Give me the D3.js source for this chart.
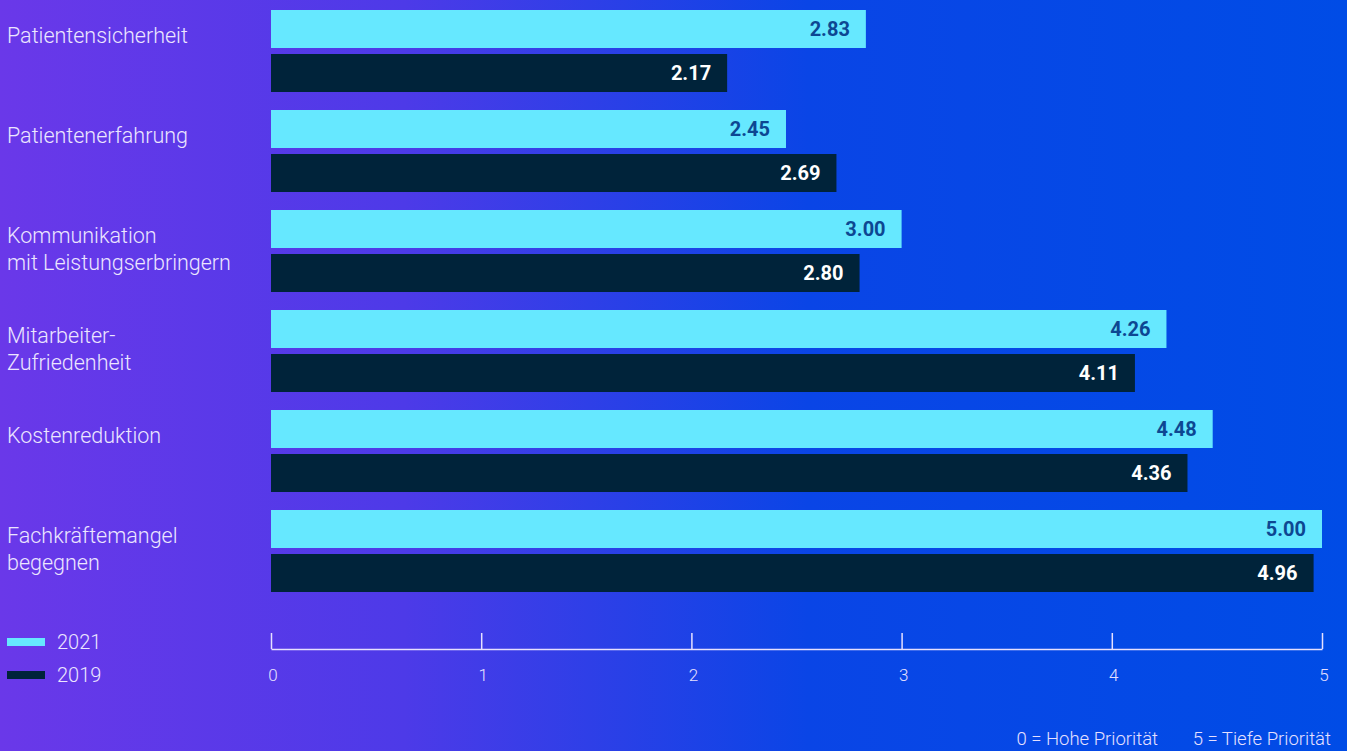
<!DOCTYPE html>
<html>
<head>
<meta charset="utf-8">
<script src="https://cdn.jsdelivr.net/npm/d3@7"></script>
<style>
    html, body { margin: 0; padding: 0; }
    body { width: 1347px; height: 751px; overflow: hidden; font-family: Roboto, "Noto Sans", sans-serif; }
</style>
</head>
<body>
<svg id="chart" width="1347" height="751"></svg>
<script>
var categories = [
    ["Patientensicherheit"],
    ["Patientenerfahrung"],
    ["Kommunikation", "mit Leistungserbringern"],
    ["Mitarbeiter-", "Zufriedenheit"],
    ["Kostenreduktion"],
    ["Fachkräftemangel", "begegnen"],
];
var values2021 = [2.83, 2.45, 3.0, 4.26, 4.48, 5.0];
var values2019 = [2.17, 2.69, 2.8, 4.11, 4.36, 4.96];
var seriesNames = ["2021", "2019"];
var tickValues = [0, 1, 2, 3, 4, 5];
var footnotes = ["0 = Hohe Priorität", "5 = Tiefe Priorität"];

var cfg = {
    colors: ["#66e8ff", "#00233a"],
    valueColors: ["#0d4792", "#ffffff"],
    barH: 38,
    barGap: 6,
    groupStep: 100,
    top: 10,
};

var svg = d3.select("#chart");

// background gradient
var grad = svg.append("defs").append("linearGradient")
    .attr("id", "bg")
    .attr("x1", "0%").attr("x2", "100%")
    .attr("y1", "0%").attr("y2", "0%");
grad.append("stop").attr("offset", "0%").attr("stop-color", "#6a38e9");
grad.append("stop").attr("offset", "30%").attr("stop-color", "#4d3ae8");
grad.append("stop").attr("offset", "60%").attr("stop-color", "#0a45e6");
grad.append("stop").attr("offset", "100%").attr("stop-color", "#004ce6");
svg.append("rect").attr("width", 1347).attr("height", 751).attr("fill", "url(#bg)");

var x = d3.scaleLinear().domain([0, 5]).range([271, 1322]);

var rows = categories.map(function (c, i) {
    return { label: c, vals: [values2021[i], values2019[i]] };
});

var groups = svg.selectAll("g.row")
    .data(rows)
    .enter()
    .append("g")
    .attr("class", "row")
    .attr("transform", function (d, i) { return "translate(0," + (cfg.top + i * cfg.groupStep) + ")"; });

// category labels
groups.each(function (d) {
    var t = d3.select(this).append("text")
        .attr("fill", "#ece6ff")
        .style("font-size", "21.5px")
        .style("font-weight", 300);
    d.label.forEach(function (line, j) {
        t.append("tspan")
            .attr("x", 7)
            .attr("y", 33 + j * 27)
            .text(line);
    });
});

// bars + value labels
[0, 1].forEach(function (s) {
    var yOff = s * (cfg.barH + cfg.barGap);
    groups.append("rect")
        .attr("x", x(0))
        .attr("y", yOff)
        .attr("width", function (d) { return x(d.vals[s]) - x(0); })
        .attr("height", cfg.barH)
        .attr("fill", cfg.colors[s]);
    groups.append("text")
        .attr("x", function (d) { return x(d.vals[s]) - 16; })
        .attr("y", yOff + cfg.barH / 2)
        .attr("dy", "0.35em")
        .attr("text-anchor", "end")
        .attr("fill", cfg.valueColors[s])
        .style("font-size", "20px")
        .style("font-weight", 700)
        .text(function (d) { return d.vals[s].toFixed(2); });
});

// axis
var axisY = 649;
var axisG = svg.append("g")
    .attr("transform", "translate(0," + axisY + ")")
    .call(d3.axisTop(x).tickValues(tickValues).tickSize(16).tickSizeOuter(0).tickFormat(""));
axisG.select(".domain").attr("stroke", "#e6e0ff").attr("stroke-width", 1.5);
axisG.selectAll(".tick line").attr("stroke", "#e6e0ff").attr("stroke-width", 1.5);

svg.selectAll("text.tick-label")
    .data(tickValues)
    .enter()
    .append("text")
    .attr("class", "tick-label")
    .attr("x", function (d) { return x(d) + 2; })
    .attr("y", 681)
    .attr("text-anchor", "middle")
    .attr("fill", "#e6e0ff")
    .style("font-size", "17px")
    .style("font-weight", 300)
    .text(function (d) { return d; });

// legend
var legend = svg.append("g").attr("transform", "translate(7,638)");
seriesNames.forEach(function (name, i) {
    legend.append("rect")
        .attr("x", 0)
        .attr("y", i * 33)
        .attr("width", 38)
        .attr("height", 8)
        .attr("fill", cfg.colors[i]);
    legend.append("text")
        .attr("x", 50)
        .attr("y", i * 33 + 4)
        .attr("dy", "0.35em")
        .attr("fill", "#ece6ff")
        .style("font-size", "20px")
        .style("font-weight", 300)
        .text(name);
});

// footnote
footnotes.forEach(function (f, i) {
    svg.append("text")
        .attr("x", [1158, 1331][i])
        .attr("y", 745)
        .attr("text-anchor", "end")
        .attr("fill", "#e6e0ff")
        .style("font-size", "18.5px")
        .style("font-weight", 300)
        .text(f);
});
</script>
</body>
</html>
